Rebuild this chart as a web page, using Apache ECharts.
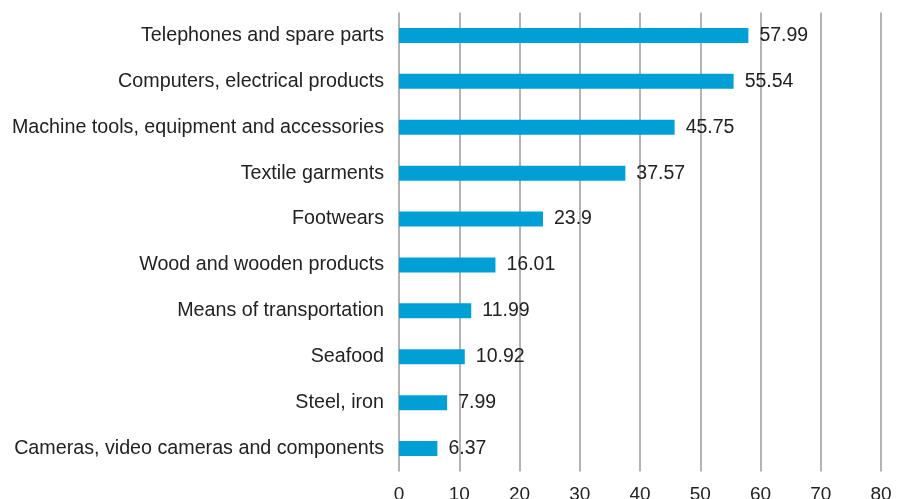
<!DOCTYPE html>
<html>
<head>
<meta charset="utf-8">
<script src="https://cdn.jsdelivr.net/npm/echarts@6/dist/echarts.min.js"></script>
<style>html,body{margin:0;padding:0;background:#fff;}#c{width:897px;height:499px;}</style>
</head>
<body>
<div id="c"></div>
<script>
var categories = [
  "Telephones and spare parts",
  "Computers, electrical products",
  "Machine tools, equipment and accessories",
  "Textile garments",
  "Footwears",
  "Wood and wooden products",
  "Means of transportation",
  "Seafood",
  "Steel, iron",
  "Cameras, video cameras and components"
];
var values = [57.99, 55.54, 45.75, 37.57, 23.9, 16.01, 11.99, 10.92, 7.99, 6.37];
var xTicks = [0, 10, 20, 30, 40, 50, 60, 70, 80];

var FONT = 'Liberation Sans, Arial, sans-serif';
var chart = echarts.init(document.getElementById('c'), null, {renderer: 'canvas'});
chart.setOption({
  backgroundColor: '#ffffff',
  animation: false,
  grid: {left: 399, right: 16, top: 12.5, bottom: 27.5, containLabel: false, outerBoundsMode: 'none'},
  xAxis: {
    type: 'value', min: xTicks[0], max: xTicks[xTicks.length - 1], interval: 10,
    axisLine: {show: false}, axisTick: {show: false},
    splitLine: {show: true, lineStyle: {color: '#9a9a9a', width: 1.5}},
    axisLabel: {color: '#222', fontSize: 19, fontFamily: FONT, margin: 14}
  },
  yAxis: {
    type: 'category', data: categories, inverse: true,
    axisLine: {show: false}, axisTick: {show: false},
    axisLabel: {color: '#222', fontSize: 19.7, fontFamily: FONT, margin: 15}
  },
  series: [{
    type: 'bar', data: values, barWidth: 15,
    itemStyle: {color: '#009fd6'},
    label: {show: true, position: 'right', distance: 11, color: '#222', fontSize: 19.5, fontFamily: FONT}
  }]
});
</script>
</body>
</html>
